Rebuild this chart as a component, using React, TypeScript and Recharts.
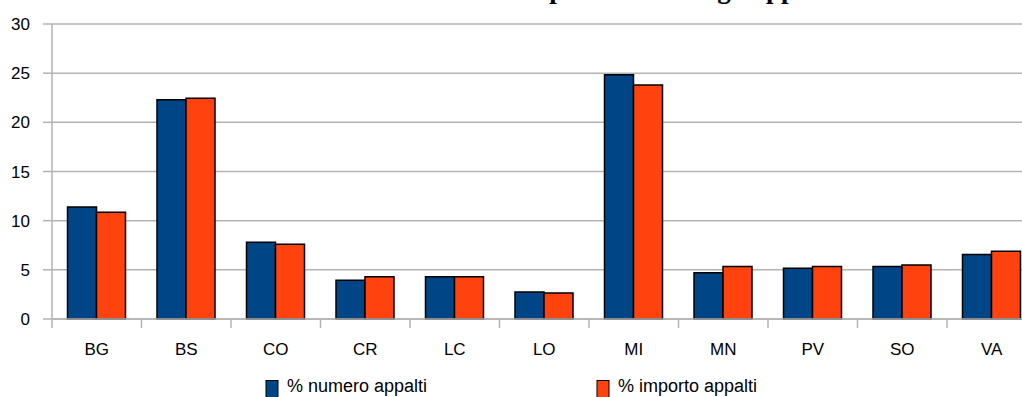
import React from 'react';
import { BarChart, Bar, XAxis, YAxis, CartesianGrid, Legend } from 'recharts';

const categories = ['BG', 'BS', 'CO', 'CR', 'LC', 'LO', 'MI', 'MN', 'PV', 'SO', 'VA'];
const numeroAppalti = [11.4, 22.3, 7.8, 3.95, 4.3, 2.75, 24.85, 4.7, 5.15, 5.35, 6.55];
const importoAppalti = [10.85, 22.45, 7.6, 4.3, 4.3, 2.65, 23.8, 5.35, 5.35, 5.5, 6.9];
const yTicks = [0, 5, 10, 15, 20, 25, 30];
const seriesNames = ['% numero appalti', '% importo appalti'];
const titleText = 'Lombardia: numero e importo totale degli appalti';

const data = categories.map((c, i) => ({
  cat: c,
  numero: numeroAppalti[i],
  importo: importoAppalti[i],
}));

const CHART_W = 1040;
const CHART_H = 397;
const Y_W = 52;
const MARGIN_R = 3.5;
const STEP = (CHART_W - Y_W - MARGIN_R) / categories.length;
const FONT = '"Liberation Sans", Arial, sans-serif';
const GRID = '#b3b3b3';
const BLUE = '#004586';
const ORANGE = '#ff420e';

const CategoryTick = (props: any) => {
  const { x, y, payload } = props;
  return (
    <g>
      <line x1={x - STEP / 2} x2={x - STEP / 2} y1={y} y2={y + 9} stroke={GRID} strokeWidth={1.5} />
      <text x={x} y={y + 36} textAnchor="middle" fontSize={17} fontFamily={FONT} fill="#000">
        {payload.value}
      </text>
    </g>
  );
};

const LegendContent = () => {
  const items = [
    { name: seriesNames[0], color: BLUE, x: 266 },
    { name: seriesNames[1], color: ORANGE, x: 597 },
  ];
  return (
    <div style={{ position: 'relative', height: 0, width: 0 }}>
      <svg width={1022} height={397} style={{ position: 'absolute', left: 0, top: 0, overflow: 'hidden' }}>
        {items.map((it) => (
          <g key={it.name}>
            <rect x={it.x} y={380.5} width={12} height={20} fill={it.color} stroke="#000" strokeWidth={1} />
            <text x={it.x + 21} y={392} fontSize={18} fontFamily={FONT} fill="#000">
              {it.name}
            </text>
          </g>
        ))}
      </svg>
    </div>
  );
};

export default function App() {
  return (
    <div
      style={{
        position: 'fixed',
        left: 0,
        top: 0,
        width: 1022,
        height: 397,
        overflow: 'hidden',
        background: '#fff',
      }}
    >
      <BarChart
        width={CHART_W}
        height={CHART_H}
        data={data}
        margin={{ top: 24, right: MARGIN_R, left: 0, bottom: 48 }}
        barCategoryGap={15.5}
        barGap={0}
      >
        <CartesianGrid vertical={false} stroke={GRID} strokeWidth={1.5} />
        <XAxis
          dataKey="cat"
          height={30}
          interval={0}
          tickSize={0}
          tickMargin={0}
          tickLine={false}
          axisLine={{ stroke: GRID, strokeWidth: 1.5 }}
          tick={<CategoryTick />}
        />
        <YAxis
          domain={[0, 30]}
          ticks={yTicks}
          interval={0}
          width={Y_W}
          tickSize={9}
          tickMargin={13}
          axisLine={{ stroke: GRID, strokeWidth: 1.5 }}
          tickLine={{ stroke: GRID, strokeWidth: 1.5 }}
          tick={{ fill: '#000', fontSize: 17, fontFamily: FONT }}
        />
        <Legend verticalAlign="bottom" content={<LegendContent />} wrapperStyle={{ left: 0, top: 0, width: 0, height: 0 }} />
        <Bar dataKey="numero" name={seriesNames[0]} fill={BLUE} stroke="#000" strokeWidth={1.5} isAnimationActive={false} />
        <Bar dataKey="importo" name={seriesNames[1]} fill={ORANGE} stroke="#000" strokeWidth={1.5} isAnimationActive={false} />
      </BarChart>
      <svg width={1022} height={397} style={{ position: 'absolute', left: 0, top: 0, pointerEvents: 'none' }}>
        <text x={258} y={-2} fontSize={27} fontWeight="bold" fontFamily='"Liberation Serif", "Times New Roman", serif' fill="#000">
          {titleText}
        </text>
      </svg>
    </div>
  );
}
